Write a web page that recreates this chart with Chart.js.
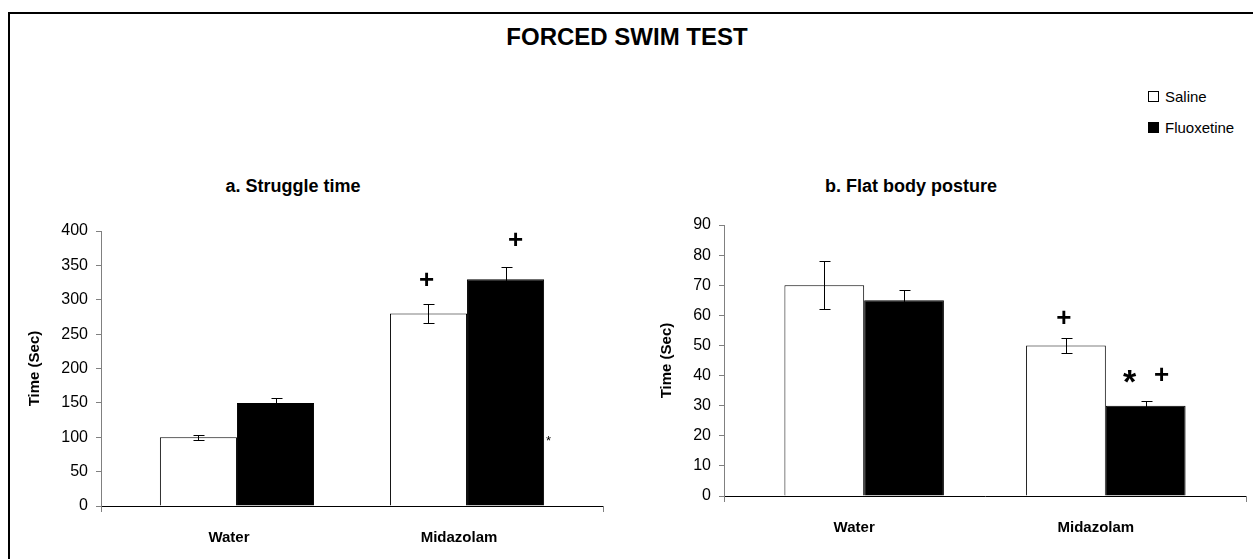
<!DOCTYPE html>
<html lang="en">
<head>
<meta charset="UTF-8">
<title>Forced swim test</title>
<script src="https://cdn.jsdelivr.net/npm/chart.js"></script>
<style>
  body { margin:0; width:1253px; height:559px; overflow:hidden; background:#fff; position:relative;
         font-family:"Liberation Sans", Arial, sans-serif; color:#000; }
  .frame { position:absolute; left:8px; top:12px; width:1300px; height:600px;
           border-top:2px solid #000; border-left:2px solid #000; }
  .txt { position:absolute; line-height:1; white-space:nowrap; }
  .main { left:627px; top:25px; font-size:24px; font-weight:bold; transform:translateX(-50%); }
  .sub { top:177px; font-size:18px; font-weight:bold; transform:translateX(-50%); }
  .legend { left:1148px; display:flex; align-items:center; height:16px; font-size:15px; }
  .box { width:9px; height:9px; border:1px solid #000; margin-right:6px; background:#fff; }
  .box.fill { background:#000; }
  .plot { position:absolute; top:200px; }
</style>
</head>
<body>
  <div class="frame"></div>
  <div class="txt main">FORCED SWIM TEST</div>
  <div class="txt legend" style="top:88px"><span class="box"></span>Saline</div>
  <div class="txt legend" style="top:119px"><span class="box fill"></span>Fluoxetine</div>
  <div class="txt sub" style="left:293px">a. Struggle time</div>
  <div class="txt sub" style="left:911px">b. Flat body posture</div>

  <div class="plot" style="left:0px"><canvas id="struggle" width="640" height="359"></canvas></div>
  <div class="plot" style="left:640px"><canvas id="flat" width="613" height="359"></canvas></div>

<script>
const categories = ['Water', 'Midazolam'];
const seriesNames = ['Saline', 'Fluoxetine'];

// a. Struggle time (sec)
const struggleSaline = [100, 280];
const struggleFluoxetine = [150, 330];
const struggleSalineErr = [4, 14];
const struggleFluoxetineErr = [7, 17];
const struggleTicks = [0, 50, 100, 150, 200, 250, 300, 350, 400];
// significance marks: [category, series, value, symbol]
const struggleMarks = [[1, 0, 330, '+'], [1, 1, 388, '+'], [1, 1, 98, '*']];

// b. Flat body posture (sec)
const flatSaline = [70, 50];
const flatFluoxetine = [65, 30];
const flatSalineErr = [8, 2.5];
const flatFluoxetineErr = [3.3, 1.5];
const flatTicks = [0, 10, 20, 30, 40, 50, 60, 70, 80, 90];
const flatMarks = [[1, 0, 59.5, '+'], [1, 1, 39.6, '*'], [1, 1, 40.5, '+']];

// how each mark is drawn (offset from bar centre, font)
const struggleMarkLook = [{dx: -2, font: 'bold 26px "Liberation Sans"'},
                          {dx: 10, font: 'bold 26px "Liberation Sans"'},
                          {dx: 43, font: '13px "Liberation Sans"'}];
const flatMarkLook = [{dx: -2, font: 'bold 26px "Liberation Sans"'},
                      {dx: -16, font: 'bold 34px "Liberation Sans"'},
                      {dx: 16, font: 'bold 26px "Liberation Sans"'}];

const FONT = '"Liberation Sans", Arial, sans-serif';
const GREY = '#808080';

const errorBars = {
  id: 'errorBars',
  afterDatasetsDraw(chart, args, opts) {
    const ctx = chart.ctx;
    const y = chart.scales.y;
    const area = chart.chartArea;
    ctx.save();
    // end ticks of the category axis
    ctx.strokeStyle = GREY;
    ctx.lineWidth = 1;
    ctx.beginPath();
    [area.left, area.right].forEach(px => {
      const x = Math.round(px) + 0.5;
      ctx.moveTo(x, area.bottom); ctx.lineTo(x, area.bottom + 6);
    });
    ctx.stroke();

    ctx.strokeStyle = '#000';
    chart.data.datasets.forEach((ds, di) => {
      chart.getDatasetMeta(di).data.forEach((bar, i) => {
        const x = Math.round(bar.x) + 0.5;
        const top = Math.round(y.getPixelForValue(ds.data[i] + ds.errors[i])) + 0.5;
        const bot = Math.round(y.getPixelForValue(ds.data[i] - ds.errors[i])) + 0.5;
        ctx.beginPath();
        ctx.moveTo(x, top); ctx.lineTo(x, bot);
        ctx.moveTo(x - 5, top); ctx.lineTo(x + 6, top);
        ctx.moveTo(x - 5, bot); ctx.lineTo(x + 6, bot);
        ctx.stroke();
      });
    });
    // significance symbols
    ctx.fillStyle = '#000';
    ctx.textAlign = 'center';
    ctx.textBaseline = 'alphabetic';
    opts.marks.forEach((m, k) => {
      const look = opts.look[k];
      const bar = chart.getDatasetMeta(m[1]).data[m[0]];
      ctx.font = look.font;
      const tm = ctx.measureText(m[3]);
      const cy = y.getPixelForValue(m[2]);
      ctx.fillText(m[3], bar.x + look.dx, cy + (tm.actualBoundingBoxAscent - tm.actualBoundingBoxDescent) / 2);
    });
    ctx.restore();
  }
};

function makeChart(id, saline, fluox, salineErr, fluoxErr, ticks, marks, look, box) {
  return new Chart(document.getElementById(id), {
    type: 'bar',
    data: {
      labels: categories,
      datasets: [
        { label: seriesNames[0], data: saline, errors: salineErr,
          backgroundColor: '#fff', borderColor: '#000', borderWidth: 1 },
        { label: seriesNames[1], data: fluox, errors: fluoxErr,
          backgroundColor: '#000', borderColor: '#000', borderWidth: 1 }
      ]
    },
    options: {
      responsive: false,
      animation: false,
      devicePixelRatio: 1,
      layout: { padding: { top: box.top, right: box.right, left: 0, bottom: 0 } },
      plugins: {
        legend: { display: false },
        tooltip: { enabled: false },
        errorBars: { marks: marks, look: look }
      },
      datasets: { bar: { categoryPercentage: box.cat, barPercentage: 1 } },
      scales: {
        x: {
          // pull the two groups a little towards the middle, as in the original
          afterBuildTicks(s) { s._startValue -= box.pad; s._valueRange += 2 * box.pad; },
          afterFit(s) { s.height = box.xh; },
          border: { color: '#000', width: 1 },
          grid: { drawOnChartArea: false, tickLength: 6, color: 'rgba(0,0,0,0)' },
          ticks: { color: '#000', padding: 17, labelOffset: box.lo,
                   font: { family: FONT, size: 15, weight: 'bold' } }
        },
        y: {
          min: ticks[0],
          max: ticks[ticks.length - 1],
          afterBuildTicks(s) { s.ticks = ticks.map(v => ({ value: v })); },
          afterFit(s) { s.width = box.yw; },
          border: { color: GREY, width: 1 },
          grid: { drawOnChartArea: false, tickLength: 5, color: GREY },
          ticks: { color: '#000', padding: 8, font: { family: FONT, size: 16 } },
          title: { display: true, text: 'Time (Sec)', color: '#000',
                   padding: { top: box.tt, bottom: 0 },
                   font: { family: FONT, size: 15, weight: 'bold' } }
        }
      }
    },
    plugins: [errorBars]
  });
}

makeChart('struggle', struggleSaline, struggleFluoxetine, struggleSalineErr, struggleFluoxetineErr,
          struggleTicks, struggleMarks, struggleMarkLook,
          { top: 31, right: 37, xh: 53, yw: 101, cat: 0.67, pad: 0.091, lo: -8, tt: 26 });
makeChart('flat', flatSaline, flatFluoxetine, flatSalineErr, flatFluoxetineErr,
          flatTicks, flatMarks, flatMarkLook,
          { top: 25, right: 7, xh: 63, yw: 84, cat: 0.66, pad: 0.08, lo: -10, tt: 18 });
</script>
</body>
</html>
